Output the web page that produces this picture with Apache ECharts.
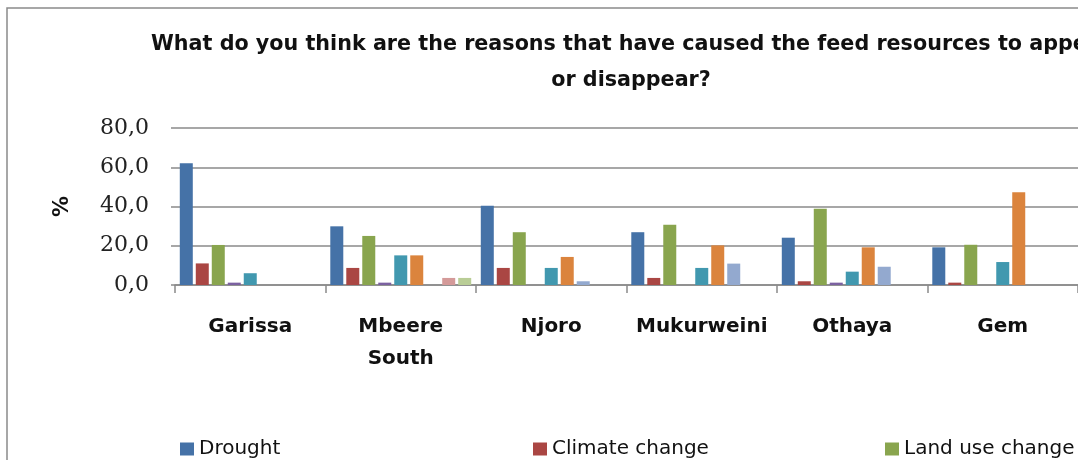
<!DOCTYPE html>
<html>
<head>
<meta charset="utf-8">
<script src="https://cdn.jsdelivr.net/npm/echarts@6/dist/echarts.min.js"></script>
<style>
  html, body { margin: 0; padding: 0; overflow: hidden; background: #fff; }
  #chart { width: 1262px; height: 520px; }
</style>
</head>
<body>
<div id="chart"></div>
<script>
// Study sites (x categories)
const categories = ['Garissa', 'Mbeere\nSouth', 'Njoro', 'Mukurweini', 'Othaya', 'Gem'];

// Percentage of respondents citing each reason, per site
const drought       = [62.0, 29.9, 40.4, 26.9, 24.1, 19.2];
const climateChange = [11.0, 8.7, 8.7, 3.6, 1.9, 1.2];
const landUseChange = [20.4, 25.0, 26.9, 30.7, 38.9, 20.5];
const reason4       = [1.2, 1.2, 0, 0, 1.2, 0];
const reason5       = [6.0, 15.1, 8.7, 8.7, 6.8, 11.7];
const reason6       = [0, 15.1, 14.3, 20.2, 19.2, 47.2];
const reason7       = [0, 0, 1.9, 10.9, 9.3, 0];
const reason8       = [0, 3.6, 0, 0, 0, 0];
const reason9       = [0, 3.6, 0, 0, 0, 0];

const seriesNames = ['Drought', 'Climate change', 'Land use change',
  'Reason 4', 'Reason 5', 'Reason 6', 'Reason 7', 'Reason 8', 'Reason 9'];
const seriesValues = [drought, climateChange, landUseChange, reason4, reason5,
  reason6, reason7, reason8, reason9];

// Y axis tick values
const yTicks = [0, 20, 40, 60, 80];

const colors = ['#4572A7', '#AA4643', '#89A54E', '#7B61A0', '#4198AF',
  '#DB843D', '#93A9CF', '#D49A99', '#B9CD96'];

const chart = echarts.init(document.getElementById('chart'), null, { renderer: 'canvas' });

const series = seriesNames.map((name, i) => ({
  name,
  type: 'bar',
  data: seriesValues[i],
  barWidth: 13,
  barGap: '23%',
  itemStyle: { color: colors[i] },
  emphasis: { disabled: true }
}));

const legendFont = { fontFamily: 'DejaVu Sans', fontSize: 20, color: '#111' };
const legendBase = {
  icon: 'rect', itemWidth: 14, itemHeight: 13, itemGap: 0,
  top: 439, textStyle: legendFont, padding: 0, selectedMode: false
};

chart.setOption({
  animation: false,
  color: colors,
  title: {
    text: 'What do you think are the reasons that have caused the feed resources to appear\nor disappear?',
    left: 'center',
    top: 22,
    textStyle: {
      fontFamily: 'DejaVu Sans', fontWeight: 'bold', fontSize: 20.7,
      lineHeight: 36, color: '#111'
    }
  },
  graphic: [{
    type: 'rect',
    shape: { x: 7, y: 8, width: 1300, height: 600 },
    style: { fill: 'none', stroke: '#8a8a8a', lineWidth: 1.5 },
    silent: true
  }],
  legend: [
    Object.assign({ left: 180, data: ['Drought'] }, legendBase),
    Object.assign({ left: 533, data: ['Climate change'] }, legendBase),
    Object.assign({ left: 885, data: ['Land use change'] }, legendBase)
  ],
  grid: { left: 175, top: 128, width: 903, height: 157, containLabel: false },
  xAxis: {
    type: 'category',
    data: categories,
    axisLine: { lineStyle: { color: '#8a8a8a', width: 1.5 } },
    axisTick: { show: true, length: 8, lineStyle: { color: '#8a8a8a', width: 1.5 } },
    axisLabel: {
      interval: 0, margin: 26,
      fontFamily: 'DejaVu Sans', fontWeight: 'bold', fontSize: 20,
      lineHeight: 32, color: '#111'
    }
  },
  yAxis: {
    type: 'value',
    min: yTicks[0], max: yTicks[yTicks.length - 1], interval: 20,
    name: '%',
    nameLocation: 'middle',
    nameRotate: 90,
    nameGap: 102,
    nameTextStyle: { fontFamily: 'DejaVu Sans', fontWeight: 'bold', fontSize: 21, color: '#111' },
    axisLine: { show: false },
    axisTick: { show: true, length: 4, lineStyle: { color: '#8a8a8a', width: 1.5 } },
    splitLine: { lineStyle: { color: '#8a8a8a', width: 1.5 } },
    axisLabel: {
      margin: 26,
      fontFamily: 'DejaVu Serif', fontSize: 22, color: '#222',
      formatter: v => v.toFixed(1).replace('.', ',')
    }
  },
  series
});
</script>
</body>
</html>
